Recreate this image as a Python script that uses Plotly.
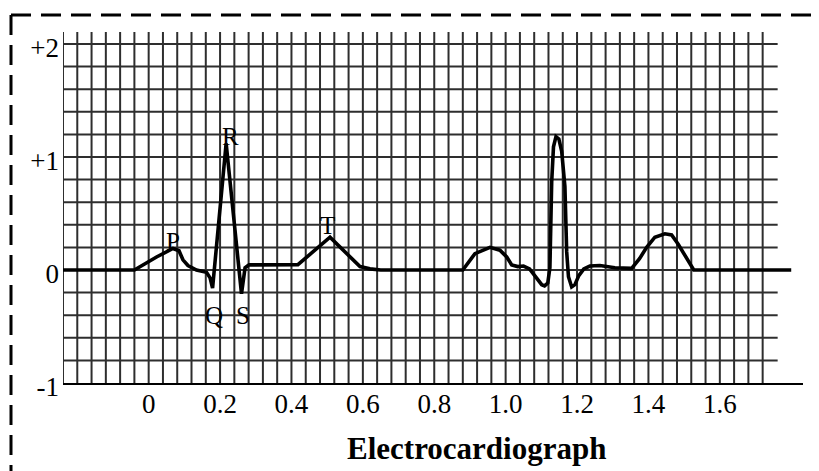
import plotly.graph_objects as go

# ---- data: ECG trace (time in s, voltage in mV) ----
time_s = [-0.24, -0.04, 0.022, 0.068, 0.085, 0.096, 0.11, 0.134, 0.162, 0.172, 0.179,
          0.217, 0.26, 0.27, 0.281, 0.418, 0.508, 0.592, 0.62, 0.65,
          0.88, 0.914, 0.956, 0.984, 1.003, 1.017, 1.034, 1.05, 1.067, 1.087, 1.101, 1.109, 1.118,
          1.124, 1.129, 1.134, 1.141, 1.149, 1.157, 1.166, 1.171, 1.176, 1.185, 1.194, 1.205,
          1.219, 1.236, 1.264, 1.306, 1.353, 1.375, 1.395, 1.418, 1.446, 1.465, 1.483, 1.502,
          1.521, 1.527, 1.80]
voltage_mv = [0.0, 0.0, 0.115, 0.19, 0.17, 0.09, 0.04, 0.0, -0.02, -0.07, -0.16,
              1.12, -0.21, 0.02, 0.045, 0.047, 0.29, 0.03, 0.01, 0.0,
              0.0, 0.145, 0.2, 0.175, 0.115, 0.045, 0.03, 0.035, 0.01, -0.07, -0.13, -0.14, -0.115,
              0.02, 0.78, 1.09, 1.18, 1.16, 1.05, 0.74, 0.16, -0.06, -0.15, -0.13, -0.05,
              0.01, 0.035, 0.04, 0.02, 0.015, 0.1, 0.2, 0.29, 0.32, 0.31, 0.23, 0.13,
              0.02, 0.0, 0.0]

x_tick_vals = [0, 0.2, 0.4, 0.6, 0.8, 1.0, 1.2, 1.4, 1.6]
x_tick_text = ["0", "0.2", "0.4", "0.6", "0.8", "1.0", "1.2", "1.4", "1.6"]
y_tick_vals = [-1, 0, 1, 2]
y_tick_text = ["-1", "0", "+1", "+2"]

wave_labels = ["P", "R", "T", "Q", "S"]

# ---- layout geometry ----
W, H = 819, 471
ML, MR, MT, MB = 63, 16, 32, 88
X_MIN, X_MAX = -0.24, 1.833
Y_MIN, Y_MAX = -1.0, 2.106
GRID_DT, GRID_DV = 0.04, 0.2
GRID_X_END = 1.72      # last vertical grid line
GRID_H_END = 1.762     # horizontal grid lines stop here
GRID_COLOR = "#2e2e2e"

pw = W - ML - MR
ph = H - MT - MB


def px_to_paper_x(px):
    return (px - ML) / pw


def px_to_paper_y(py):
    return (H - MB - py) / ph


shapes = []
# vertical grid lines
for k in range(int(round((GRID_X_END - X_MIN) / GRID_DT)) + 1):
    xv = X_MIN + k * GRID_DT
    shapes.append(dict(type="line", xref="x", yref="y", x0=xv, x1=xv, y0=Y_MIN, y1=Y_MAX,
                       line=dict(color=GRID_COLOR, width=2), layer="below"))
# horizontal grid lines
for k in range(1, int(round((2.0 - Y_MIN) / GRID_DV)) + 1):
    yv = Y_MIN + k * GRID_DV
    shapes.append(dict(type="line", xref="x", yref="y", x0=X_MIN, x1=GRID_H_END, y0=yv, y1=yv,
                       line=dict(color=GRID_COLOR, width=2), layer="below"))

# dashed frame (left and top)
bx0, by0, bx1, by1 = px_to_paper_x(11), px_to_paper_y(15), px_to_paper_x(812), px_to_paper_y(471)
shapes.append(dict(type="line", xref="paper", yref="paper", x0=bx0, x1=bx1, y0=by0, y1=by0,
                   line=dict(color="black", width=3, dash="20px,10px")))
shapes.append(dict(type="line", xref="paper", yref="paper", x0=bx0, x1=bx0, y0=by0, y1=by1,
                   line=dict(color="black", width=3, dash="20px,10px")))

fig = go.Figure()
fig.add_trace(go.Scatter(x=time_s, y=voltage_mv, mode="lines",
                         line=dict(color="black", width=3.6), hoverinfo="skip",
                         showlegend=False))

serif = "Liberation Serif, Times New Roman, serif"
label_pos = {"P": (0.068, 0.25), "R": (0.228, 1.18), "T": (0.5, 0.39),
             "Q": (0.182, -0.40), "S": (0.264, -0.40)}
annotations = []
for name in wave_labels:
    lx, ly = label_pos[name]
    annotations.append(dict(x=lx, y=ly, xref="x", yref="y", text=name, showarrow=False,
                            xanchor="center", yanchor="middle",
                            font=dict(family=serif, size=25, color="black")))
annotations.append(dict(x=px_to_paper_x(477), y=px_to_paper_y(448), xref="paper", yref="paper",
                        text="<b>Electrocardiograph</b>", showarrow=False,
                        xanchor="center", yanchor="middle",
                        font=dict(family=serif, size=31, color="black")))

fig.update_layout(
    width=W, height=H,
    margin=dict(l=ML, r=MR, t=MT, b=MB),
    paper_bgcolor="white", plot_bgcolor="white",
    shapes=shapes, annotations=annotations,
    xaxis=dict(range=[X_MIN, X_MAX], showgrid=False, zeroline=False,
               showline=True, linecolor="black", linewidth=2,
               tickmode="array", tickvals=x_tick_vals, ticktext=x_tick_text,
               ticks="", ticklabelstandoff=-4,
               tickfont=dict(family=serif, size=27, color="black")),
    yaxis=dict(range=[Y_MIN, Y_MAX], showgrid=False, zeroline=False, showline=False,
               tickmode="array", tickvals=y_tick_vals, ticktext=y_tick_text,
               ticks="", ticklabelstandoff=3, ticklabelshift=4,
               tickfont=dict(family=serif, size=27, color="black")),
)

fig.write_html("out.html", config={"displayModeBar": False},
               post_script="document.body.style.margin='0';document.body.style.padding='0';")
